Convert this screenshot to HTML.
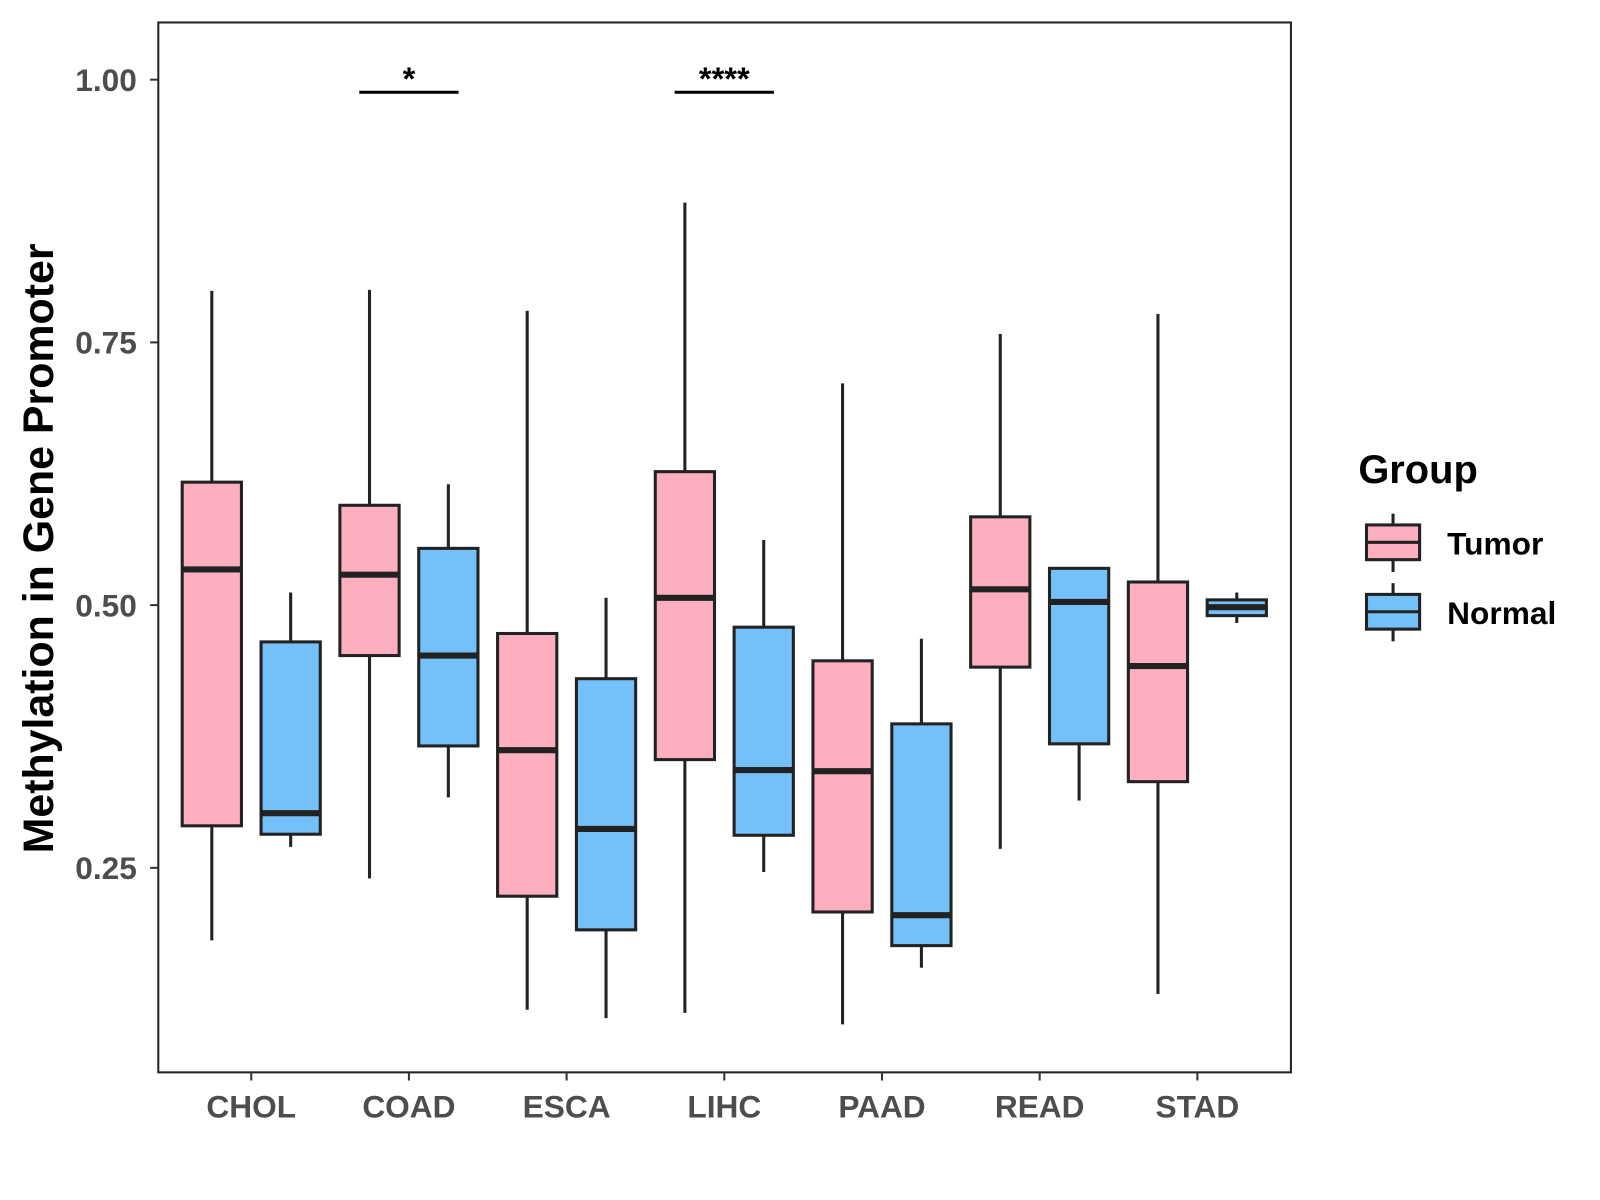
<!DOCTYPE html>
<html><head><meta charset="utf-8"><style>
body{margin:0;background:#fff;}
svg{display:block;font-family:"Liberation Sans",Arial,sans-serif;}
</style></head><body>
<svg id="chart" width="1600" height="1200" viewBox="0 0 1600 1200">
<g transform="scale(1.0213)">
<rect x="155" y="22" width="1109" height="1028" fill="#fff" stroke="#222" stroke-width="2"/>
<g id="marks"></g>
<g id="axes"></g>
<text transform="translate(52,537) rotate(-90)" text-anchor="middle" font-size="42" font-weight="bold" fill="#000">Methylation in Gene Promoter</text>
<g>
<text x="1330" y="473" font-size="39" font-weight="bold">Group</text>
<g>
<line x1="1364" y1="503" x2="1364" y2="560" stroke="#222" stroke-width="3"/>
<rect x="1338" y="514" width="52" height="34" fill="#FDAFC0" stroke="#222" stroke-width="3"/>
<line x1="1338" y1="531" x2="1390" y2="531" stroke="#222" stroke-width="3"/>
<text x="1417" y="543" font-size="31" font-weight="bold">Tumor</text></g>
<g>
<line x1="1364" y1="571" x2="1364" y2="628" stroke="#222" stroke-width="3"/>
<rect x="1338" y="582" width="52" height="34" fill="#74C0F8" stroke="#222" stroke-width="3"/>
<line x1="1338" y1="599" x2="1390" y2="599" stroke="#222" stroke-width="3"/>
<text x="1417" y="611" font-size="31" font-weight="bold">Normal</text></g>
</g>
</g>
</svg>
<script>
const categories=["CHOL","COAD","ESCA","LIHC","PAAD","READ","STAD"];
const tumorLow=[0.181,0.240,0.115,0.112,0.101,0.268,0.130];
const tumorQ1=[0.290,0.452,0.223,0.353,0.208,0.441,0.332];
const tumorMed=[0.534,0.529,0.362,0.507,0.342,0.515,0.442];
const tumorQ3=[0.617,0.595,0.473,0.627,0.447,0.584,0.522];
const tumorHigh=[0.799,0.800,0.780,0.883,0.711,0.758,0.777];
const normalLow=[0.270,0.317,0.107,0.246,0.155,0.314,0.483];
const normalQ1=[0.282,0.366,0.191,0.281,0.176,0.368,0.490];
const normalMed=[0.302,0.452,0.287,0.343,0.205,0.503,0.498];
const normalQ3=[0.465,0.554,0.430,0.479,0.387,0.535,0.505];
const normalHigh=[0.512,0.615,0.507,0.562,0.468,0.536,0.512];
const yTicks=[0.25,0.50,0.75,1.00];
const yTickLabels=["0.25","0.50","0.75","1.00"];
const sigCats=["COAD","LIHC"];
const sigLabels=["*","****"];
const sigY=[0.988,0.988];

const NS="http://www.w3.org/2000/svg";
const yS=v=>78+(1-v)*1029;
const xS=i=>246+i*154.4;
function mk(tag,attrs,parent){const e=document.createElementNS(NS,tag);for(const k in attrs)e.setAttribute(k,attrs[k]);parent.appendChild(e);return e;}
const marks=document.getElementById('marks'),axes=document.getElementById('axes');
function box(cx,lo,q1,md,q3,hi,fill,name){
  const g=mk('g',{},marks);
  
  
  mk('line',{x1:cx,x2:cx,y1:yS(hi),y2:yS(q3),stroke:'#222','stroke-width':3},g);
  mk('line',{x1:cx,x2:cx,y1:yS(q1),y2:yS(lo),stroke:'#222','stroke-width':3},g);
  mk('rect',{x:cx-29,y:yS(q3),width:58,height:yS(q1)-yS(q3),fill:fill,stroke:'#222','stroke-width':3},g);
  mk('line',{x1:cx-29,x2:cx+29,y1:yS(md),y2:yS(md),stroke:'#222','stroke-width':6},g);
}
categories.forEach((c,i)=>{
  box(xS(i)-38.6,tumorLow[i],tumorQ1[i],tumorMed[i],tumorQ3[i],tumorHigh[i],'#FDAFC0','box-tumor-'+c.toLowerCase());
  box(xS(i)+38.6,normalLow[i],normalQ1[i],normalMed[i],normalQ3[i],normalHigh[i],'#74C0F8','box-normal-'+c.toLowerCase());
  mk('line',{x1:xS(i),x2:xS(i),y1:1050,y2:1058,stroke:'#333','stroke-width':2},axes);
  const t=mk('text',{x:xS(i),y:1094,'text-anchor':'middle','font-size':31,'font-weight':'bold',fill:'#4d4d4d'},axes);
  t.textContent=c;
  
  
});
yTicks.forEach((v,i)=>{
  mk('line',{x1:147,x2:155,y1:yS(v),y2:yS(v),stroke:'#333','stroke-width':2},axes);
  const t=mk('text',{x:134,y:yS(v)+11,'text-anchor':'end','font-size':31,'font-weight':'bold',fill:'#4d4d4d'},axes);
  t.textContent=yTickLabels[i];
  
  
});
sigCats.forEach((c,k)=>{
  const i=categories.indexOf(c);
  const g=mk('g',{},marks);
  
  
  mk('line',{x1:xS(i)-48.6,x2:xS(i)+48.6,y1:yS(sigY[k]),y2:yS(sigY[k]),stroke:'#000','stroke-width':3},g);
  const t=mk('text',{x:xS(i),y:yS(sigY[k])-2,'text-anchor':'middle','font-size':32,'font-weight':'bold'},g);
  t.textContent=sigLabels[k];
});
</script>
</body></html>
